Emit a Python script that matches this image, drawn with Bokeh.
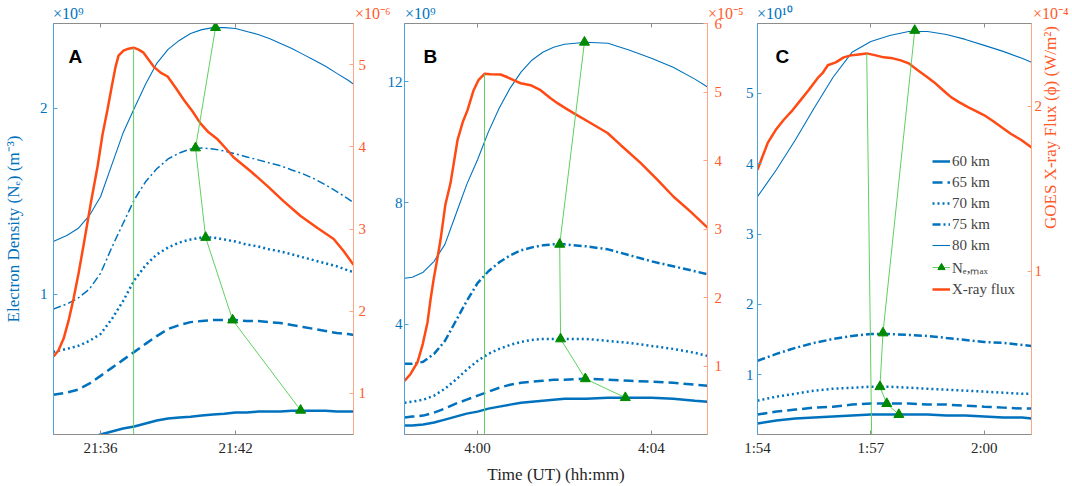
import numpy as np
from bokeh.plotting import figure
from bokeh.models import Range1d, LinearAxis, FixedTicker, Label, Legend, LegendItem, Div
from bokeh.layouts import row, column
from bokeh.embed import file_html
from bokeh.resources import INLINE

# ---------------- data (time in minutes after 00:00 UT) ----------------
# Panel A: density in 1e9 m^-3, X-ray flux in 1e-6 W/m^2
t_a = [1293.9, 1294.5, 1295.0, 1295.5, 1296.0, 1296.5, 1297.0, 1297.5, 1298.0, 1298.5,
       1299.0, 1299.5, 1300.0, 1300.5, 1301.0, 1301.5, 1302.0, 1302.5, 1303.0, 1303.5,
       1304.0, 1304.5, 1305.0, 1305.5, 1306.0, 1306.5, 1307.0, 1307.25]
ne60_a = [0.160, 0.182, 0.203, 0.225, 0.246, 0.262, 0.278, 0.289, 0.305, 0.321,
          0.332, 0.337, 0.342, 0.348, 0.353, 0.358, 0.364, 0.364, 0.369, 0.369,
          0.369, 0.374, 0.374, 0.374, 0.374, 0.369, 0.369, 0.369]
ne65_a = [0.460, 0.471, 0.487, 0.519, 0.561, 0.604, 0.647, 0.690, 0.733, 0.775,
          0.813, 0.834, 0.850, 0.856, 0.861, 0.861, 0.861, 0.856, 0.856, 0.850,
          0.845, 0.834, 0.824, 0.813, 0.802, 0.791, 0.786, 0.781]
ne70_a = [0.690, 0.706, 0.722, 0.749, 0.786, 0.866, 0.963, 1.075, 1.155, 1.214,
          1.251, 1.278, 1.294, 1.305, 1.305, 1.294, 1.283, 1.267, 1.257, 1.241,
          1.230, 1.214, 1.198, 1.182, 1.166, 1.150, 1.128, 1.118]
ne75_a = [0.920, 0.947, 0.979, 1.027, 1.112, 1.251, 1.380, 1.508, 1.604, 1.674,
          1.727, 1.759, 1.781, 1.786, 1.781, 1.770, 1.754, 1.738, 1.722, 1.706,
          1.690, 1.668, 1.647, 1.620, 1.588, 1.551, 1.513, 1.492]
ne80_a = [1.283, 1.316, 1.353, 1.422, 1.524, 1.695, 1.866, 2.000, 2.128, 2.241,
          2.316, 2.364, 2.401, 2.422, 2.433, 2.433, 2.428, 2.412, 2.396, 2.374,
          2.348, 2.321, 2.289, 2.257, 2.225, 2.187, 2.150, 2.128]
tx_a = [1293.91, 1294.13, 1294.36, 1294.58, 1294.80, 1295.02, 1295.24, 1295.56, 1295.87, 1296.09,
        1296.31, 1296.49, 1296.67, 1296.80, 1297.02, 1297.24, 1297.47, 1297.69, 1297.91, 1298.13,
        1298.36, 1298.67, 1298.98, 1299.33, 1299.69, 1300.09, 1300.44, 1300.80, 1301.20, 1301.56,
        1301.91, 1302.67, 1303.42, 1304.13, 1304.89, 1305.64, 1306.36, 1306.80, 1307.24]
xray_a = [1.448, 1.521, 1.667, 1.885, 2.152, 2.455, 2.794, 3.303, 3.764, 4.152,
          4.455, 4.721, 4.976, 5.109, 5.170, 5.194, 5.206, 5.182, 5.145, 5.061,
          4.976, 4.903, 4.855, 4.721, 4.576, 4.430, 4.285, 4.176, 4.091, 3.982,
          3.873, 3.703, 3.521, 3.339, 3.158, 3.012, 2.879, 2.733, 2.564]
nemax_t_a = [1301.11, 1300.22, 1300.67, 1301.87, 1304.89]   # 80, 75, 70, 65, 60 km
nemax_a = [2.433, 1.786, 1.305, 0.861, 0.376]
foot_t_a = 1297.47

# Panel B: density in 1e9 m^-3, X-ray flux in 1e-5 W/m^2
t_b = [238.32, 238.5, 238.75, 239.0, 239.25, 239.5, 239.75, 240.0, 240.25, 240.5,
       240.75, 241.0, 241.25, 241.5, 241.75, 242.0, 242.5, 243.0, 243.5, 244.0,
       244.5, 245.0, 245.29]
ne60_b = [0.645, 0.645, 0.678, 0.743, 0.842, 0.941, 1.039, 1.105, 1.204, 1.270,
          1.336, 1.401, 1.434, 1.467, 1.500, 1.533, 1.533, 1.566, 1.566, 1.566,
          1.533, 1.467, 1.434]
ne65_b = [0.908, 0.941, 0.974, 1.072, 1.204, 1.368, 1.500, 1.632, 1.763, 1.895,
          1.993, 2.059, 2.092, 2.125, 2.158, 2.158, 2.191, 2.158, 2.125, 2.092,
          2.059, 1.993, 1.961]
ne70_b = [1.401, 1.434, 1.500, 1.632, 1.862, 2.158, 2.487, 2.783, 3.013, 3.178,
          3.309, 3.408, 3.474, 3.507, 3.507, 3.507, 3.507, 3.441, 3.375, 3.276,
          3.178, 3.046, 2.947]
ne75_b = [2.684, 2.684, 2.750, 3.013, 3.441, 4.099, 4.757, 5.349, 5.743, 6.039,
          6.270, 6.434, 6.533, 6.599, 6.632, 6.632, 6.566, 6.467, 6.270, 6.072,
          5.908, 5.743, 5.645]
ne80_b = [5.513, 5.546, 5.711, 6.072, 6.632, 7.618, 8.605, 9.428, 10.349, 11.138,
          11.796, 12.322, 12.717, 12.980, 13.145, 13.243, 13.309, 13.276, 13.046, 12.783,
          12.487, 12.092, 11.829]
tx_b = [238.32, 238.46, 238.62, 238.74, 238.85, 238.92, 238.99, 239.08, 239.15, 239.26,
        239.38, 239.54, 239.66, 239.77, 239.91, 240.02, 240.16, 240.30, 240.53, 240.69,
        240.83, 240.99, 241.22, 241.45, 241.68, 241.84, 242.02, 242.21, 242.60, 242.99,
        243.29, 243.75, 244.14, 244.51, 244.90, 245.29]
xray_b = [0.782, 0.884, 1.058, 1.320, 1.640, 1.974, 2.265, 2.584, 2.846, 3.355,
          3.674, 4.299, 4.561, 4.735, 5.026, 5.172, 5.265, 5.260, 5.255, 5.215,
          5.172, 5.128, 5.099, 5.026, 4.910, 4.837, 4.765, 4.692, 4.547, 4.401,
          4.227, 3.965, 3.718, 3.471, 3.253, 3.020]
nemax_t_b = [242.46, 241.89, 241.91, 242.48, 243.40]
nemax_b = [13.31, 6.632, 3.507, 2.19, 1.566]
foot_t_b = 240.16

# Panel C: density in 1e10 m^-3, X-ray flux in 1e-4 W/m^2
t_c = [114.0, 114.5, 115.0, 115.5, 116.0, 116.5, 117.0, 117.5, 118.0, 118.5,
       119.0, 119.5, 120.0, 120.5, 121.0, 121.25]
ne60_c = [0.307, 0.349, 0.378, 0.392, 0.406, 0.420, 0.434, 0.434, 0.434, 0.434,
          0.420, 0.420, 0.406, 0.392, 0.392, 0.378]
ne65_c = [0.434, 0.477, 0.505, 0.533, 0.547, 0.576, 0.590, 0.590, 0.590, 0.576,
          0.576, 0.562, 0.547, 0.533, 0.519, 0.519]
ne70_c = [0.632, 0.689, 0.731, 0.774, 0.802, 0.816, 0.830, 0.830, 0.816, 0.802,
          0.787, 0.774, 0.760, 0.745, 0.731, 0.731]
ne75_c = [1.198, 1.297, 1.382, 1.453, 1.509, 1.552, 1.580, 1.580, 1.566, 1.552,
          1.523, 1.495, 1.467, 1.453, 1.424, 1.410]
ne80_c = [3.532, 3.914, 4.338, 4.791, 5.229, 5.583, 5.738, 5.823, 5.880, 5.880,
          5.837, 5.767, 5.682, 5.597, 5.498, 5.441]
tx_c = [114.00, 114.13, 114.27, 114.48, 114.69, 114.93, 115.14, 115.35, 115.59, 115.72,
        115.86, 116.07, 116.28, 116.47, 116.68, 116.89, 117.13, 117.34, 117.58, 117.79,
        118.00, 118.24, 118.46, 118.67, 118.91, 119.12, 119.33, 119.57, 119.78, 119.99,
        120.23, 120.45, 120.71, 120.98, 121.27]
xray_c = [1.614, 1.693, 1.777, 1.855, 1.916, 1.976, 2.036, 2.096, 2.169, 2.199,
          2.247, 2.265, 2.295, 2.307, 2.313, 2.319, 2.307, 2.295, 2.289, 2.277,
          2.259, 2.217, 2.181, 2.145, 2.096, 2.054, 2.024, 1.994, 1.970, 1.946,
          1.910, 1.873, 1.831, 1.795, 1.747]
nemax_t_c = [118.16, 117.32, 117.24, 117.42, 117.74]
nemax_c = [5.894, 1.594, 0.830, 0.590, 0.434]
foot_t_c = 117.02

# ticks
xticks_a = [1296, 1302]; xlabels_a = ["21:36", "21:42"]
xticks_b = [240, 244]; xlabels_b = ["4:00", "4:04"]
xticks_c = [114, 117, 120]; xlabels_c = ["1:54", "1:57", "2:00"]
neticks_a = [1, 2]; fticks_a = [1, 2, 3, 4, 5]
neticks_b = [4, 8, 12]; fticks_b = [1, 2, 3, 4, 5, 6]
neticks_c = [1, 2, 3, 4, 5]; fticks_c = [1, 2]

# axis ranges
xr_a = (1293.91, 1307.24); yr_a = (0.246, 2.455); fr_a = (0.5, 5.5)
xr_b = (238.32, 245.29); yr_b = (0.349, 13.93); fr_b = (0.0, 6.0)
xr_c = (114.0, 121.25); yr_c = (0.151, 5.993); fr_c = (0.012, 2.5)

# axis multipliers (left density, right flux) per panel
exp_left = ["×10⁹", "×10⁹", "×10¹⁰"]
exp_right = ["×10⁻⁶", "×10⁻⁵", "×10⁻⁴"]

legend_labels = ["60 km", "65 km", "70 km", "75 km", "80 km", "Nₑ,ₘₐₓ", "X-ray flux"]

# ---------------- styling ----------------
BLUE = "#0072BD"
BLUE_AX = "#4fa3db"
ORANGE = "#FF4A14"
ORANGE_TXT = "#FF5A2A"
ORANGE_AX = "#FFA688"
GREEN_LINE = "#5fd05f"
GREEN_MARK = "#008a00"
GRAY = "#8c8c8c"
SERIF = "Liberation Serif"
HEAD = 14          # height of the strip holding the axis multipliers
TOP = 9
FH = 413
H = 486 - HEAD


def style_axis(ax, line, text, standoff, size="15px"):
    ax.axis_line_color = line
    ax.axis_line_width = 1
    ax.major_tick_line_color = line
    ax.major_tick_in = 4
    ax.major_tick_out = 0
    ax.minor_tick_line_color = None
    ax.major_label_text_color = text
    ax.major_label_text_font = SERIF
    ax.major_label_text_font_size = size
    ax.major_label_standoff = standoff


def title_style(ax, color, standoff):
    ax.axis_label_text_font = SERIF
    ax.axis_label_text_font_size = "17px"
    ax.axis_label_text_font_style = "normal"
    ax.axis_label_text_color = color
    ax.axis_label_standoff = standoff


def panel(t, nes, tx, xray, nm_t, nm, foot_t, xr, yr, fr, xt, xl, yt, ft,
          width, bl, br, ls, rs, dd_w, letter, letter_x):
    p = figure(width=width, height=H, x_range=Range1d(*xr), y_range=Range1d(*yr),
               output_backend="svg", toolbar_location=None,
               min_border_left=bl, min_border_right=br, min_border_top=TOP,
               min_border_bottom=H - TOP - FH,
               outline_line_color=GRAY, background_fill_color="white",
               border_fill_color="white", border_fill_alpha=0)
    p.xgrid.visible = False
    p.ygrid.visible = False
    p.extra_y_ranges = {"flux": Range1d(*fr)}

    lax = p.yaxis[0]
    lax.ticker = FixedTicker(ticks=yt, minor_ticks=[])
    style_axis(lax, BLUE_AX, BLUE, ls)
    bax = p.xaxis[0]
    bax.ticker = FixedTicker(ticks=xt, minor_ticks=[])
    bax.major_label_overrides = {k: v for k, v in zip(xt, xl)}
    style_axis(bax, GRAY, "#262626", 5)
    rax = LinearAxis(y_range_name="flux", ticker=FixedTicker(ticks=ft, minor_ticks=[]))
    style_axis(rax, ORANGE_AX, ORANGE_TXT, rs)
    p.add_layout(rax, "right")
    tax = LinearAxis(ticker=FixedTicker(ticks=xt, minor_ticks=[]))
    style_axis(tax, GRAY, None, 0, "1px")
    p.add_layout(tax, "above")

    r60 = p.line(t, nes[0], line_color=BLUE, line_width=2.5)
    r65 = p.line(t, nes[1], line_color=BLUE, line_width=2.5, line_dash="10 5")
    r70 = p.line(t, nes[2], line_color=BLUE, line_width=2.5, line_dash="2 3")
    r75 = p.line(t, nes[3], line_color=BLUE, line_width=dd_w, line_dash="8 3 2 3")
    r80 = p.line(t, nes[4], line_color=BLUE, line_width=1.1)
    rx = p.line(tx, xray, line_color=ORANGE, line_width=2.5, y_range_name="flux")
    i = int(np.argmax(xray))
    p.line([tx[i], foot_t], [xray[i], fr[0]], y_range_name="flux",
           line_color=GREEN_LINE, line_width=1)
    rn = p.line(nm_t, nm, line_color=GREEN_LINE, line_width=1)
    rm = p.scatter(nm_t, nm, marker="triangle", size=10,
                   fill_color=GREEN_MARK, line_color=GREEN_MARK)

    p.add_layout(Label(x=letter_x, y=FH - 35, x_units="screen", y_units="screen", text=letter,
                       text_font="Liberation Sans", text_font_style="bold", text_font_size="19px",
                       text_color="black", text_baseline="alphabetic"))
    return p, lax, bax, rax, [r60, r65, r70, r75, r80, [rn, rm], rx]


pA, laxA, baxA, raxA, _ = panel(
    t_a, [ne60_a, ne65_a, ne70_a, ne75_a, ne80_a], tx_a, xray_a, nemax_t_a, nemax_a, foot_t_a,
    xr_a, yr_a, fr_a, xticks_a, xlabels_a, neticks_a, fticks_a,
    384, 53, 31, 6, 5, 1.5, "A", 15)
pB, laxB, baxB, raxB, _ = panel(
    t_b, [ne60_b, ne65_b, ne70_b, ne75_b, ne80_b], tx_b, xray_b, nemax_t_b, nemax_b, foot_t_b,
    xr_b, yr_b, fr_b, xticks_b, xlabels_b, neticks_b, fticks_b,
    358, 20, 35, 2, 7, 2.5, "B", 19)
pC, laxC, baxC, raxC, rc = panel(
    t_c, [ne60_c, ne65_c, ne70_c, ne75_c, ne80_c], tx_c, xray_c, nemax_t_c, nemax_c, foot_t_c,
    xr_c, yr_c, fr_c, xticks_c, xlabels_c, neticks_c, fticks_c,
    330, 15, 41, 4, 3, 2.5, "C", 18)

# axis titles
laxA.axis_label = "Electron Density (Nₑ) (m⁻³)"
title_style(laxA, BLUE, 14)
baxB.axis_label = "Time (UT) (hh:mm)"
title_style(baxB, "#262626", 6)
raxC.axis_label = "GOES X-ray Flux (ϕ) (W/m²)"
raxC.axis_label_orientation = np.pi / 2
title_style(raxC, ORANGE_TXT, 5)

# legend in panel C
items = []
for lab, r in zip(legend_labels, rc):
    items.append(LegendItem(label=lab, renderers=r if isinstance(r, list) else [r]))
legend = Legend(items=items, location=(175, 136))
legend.background_fill_alpha = 0
legend.border_line_color = None
legend.label_text_font = SERIF
legend.label_text_font_size = "15px"
legend.glyph_width = 18
legend.glyph_height = 18
legend.label_height = 18
legend.spacing = 3
legend.padding = 2
legend.margin = 0
legend.label_standoff = 2
pC.add_layout(legend)

# strip above the panels with the axis multipliers (x10^n), placed over each axis
exp_pos_left = [53, 405, 757]
exp_pos_right = [355, 708, 1033]
spans = []
for txt, x in zip(exp_left, exp_pos_left):
    spans.append(f'<span style="position:absolute;left:{x}px;top:6px;color:{BLUE};white-space:nowrap">{txt}</span>')
for txt, x in zip(exp_right, exp_pos_right):
    spans.append(f'<span style="position:absolute;left:{x}px;top:6px;color:{ORANGE_TXT};white-space:nowrap">{txt}</span>')
head_html = ('<div style="position:relative;width:1072px;height:%dpx;overflow:visible;'
             'font-family:\'Liberation Serif\',serif;font-size:16px;line-height:16px;">%s</div>'
             % (HEAD, "".join(spans)))
head = Div(text=head_html, width=1072, height=HEAD, margin=0,
           styles={"overflow": "visible", "z-index": "5"})

layout = column(head, row(pA, pB, pC), spacing=0)
open("out.html", "w").write(file_html(layout, INLINE))
